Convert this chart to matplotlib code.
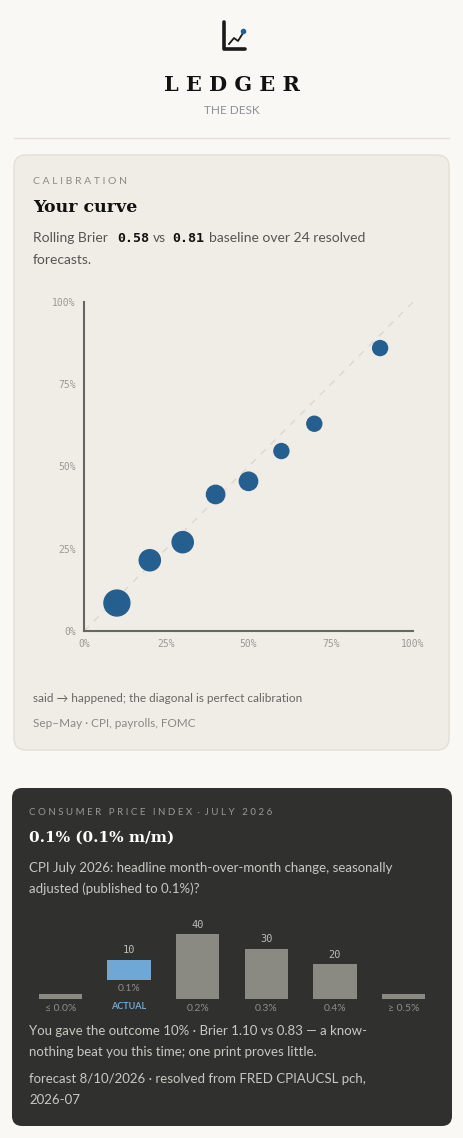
import matplotlib
matplotlib.use('Agg')
import matplotlib.pyplot as plt
from matplotlib.patches import FancyBboxPatch
import numpy as np

W, H = 464, 1138
BG = '#f9f8f5'; CARD = '#f0ede6'; DARK = '#30302e'
BLUE = '#245f8f'; GREY = '#8b8a82'; ACT = '#6fa8d6'
SANS = ['Lato', 'DejaVu Sans']; SERIF = 'DejaVu Serif'; MONO = 'DejaVu Sans Mono'

# calibration data: forecast bucket (said) vs observed frequency (happened), count
said = [10, 20, 30, 40, 50, 60, 70, 90]
happened = [8.5, 21.5, 27, 41.5, 45.5, 54.7, 63, 86]
counts = [6, 4, 4, 3, 3, 2, 2, 2]
ticks = [0, 25, 50, 75, 100]

# CPI forecast distribution
buckets = ['≤ 0.0%', '0.1%', '0.2%', '0.3%', '0.4%', '≥ 0.5%']
probs = [0, 10, 40, 30, 20, 0]
actual_idx = 1

fig = plt.figure(figsize=(W/100, H/100), dpi=100, facecolor=BG)
bg = fig.add_axes([0, 0, 1, 1]); bg.set_xlim(0, W); bg.set_ylim(H, 0); bg.axis('off')

def T(x, y, s, **kw):
    kw.setdefault('va', 'center'); kw.setdefault('family', SANS)
    bg.text(x, y, s, **kw)

# header
bg.plot([224, 224, 245], [22, 49, 49], color='#1a1a1a', lw=2.6, solid_capstyle='round')
bg.plot([229, 234, 238, 243], [44, 38, 41, 33], color='#1a1a1a', lw=1.3)
bg.plot([243], [31], 'o', color=BLUE, ms=3)
T(232, 85, 'L E D G E R', ha='center', family=SERIF, weight='bold', fontsize=15, color='#111')
T(232, 110, 'THE DESK', ha='center', fontsize=8.5, color='#8a8f99')
bg.plot([14, 449], [138, 138], color='#e2dfd8', lw=1)

# card 1
bg.add_patch(FancyBboxPatch((14, 155), 435, 595, boxstyle='round,pad=0,rounding_size=12',
                            fc=CARD, ec='#e3dfd6', lw=1))
T(33, 181, 'C A L I B R A T I O N', fontsize=7.5, color='#8c8a84')
T(33, 207, 'Your curve', family=SERIF, weight='bold', fontsize=12.5, color='#111')
T(33, 238, 'Rolling Brier', fontsize=10, color='#555')
T(117, 238, '0.58', family=MONO, fontsize=9.5, color='#111', weight='bold')
T(153, 238, 'vs', fontsize=10, color='#555')
T(172, 238, '0.81', family=MONO, fontsize=9.5, color='#111', weight='bold')
T(209, 238, 'baseline over 24 resolved', fontsize=10, color='#555')
T(33, 260, 'forecasts.', fontsize=10, color='#555')
T(33, 698, 'said → happened; the diagonal is perfect calibration', fontsize=8.5, color='#666')
T(33, 723, 'Sep–May · CPI, payrolls, FOMC', fontsize=8.5, color='#888')

ax = fig.add_axes([84/W, 1-631/H, 329/W, 329/H])
ax.set_facecolor('none')
ax.plot([0, 100], [0, 100], ls=(0, (5, 5)), color='#dcd8cf', lw=1)
ax.scatter(said, happened, s=[c*58 for c in counts], color=BLUE, zorder=3, clip_on=False)
ax.set_xlim(0, 100); ax.set_ylim(0, 100)
ax.set_xticks(ticks); ax.set_yticks(ticks)
ax.set_xticklabels([f'{t}%' for t in ticks], family=MONO, fontsize=7, color='#999')
ax.set_yticklabels([f'{t}%' for t in ticks], family=MONO, fontsize=7, color='#999')
ax.tick_params(length=0, pad=6)
for s in ['top', 'right']: ax.spines[s].set_visible(False)
for s in ['left', 'bottom']: ax.spines[s].set_color('#666'); ax.spines[s].set_linewidth(1.5)

# card 2
bg.add_patch(FancyBboxPatch((12, 788), 440, 338, boxstyle='round,pad=0,rounding_size=10',
                            fc=DARK, ec='none'))
T(29, 812, 'C O N S U M E R   P R I C E   I N D E X  ·  J U L Y   2 0 2 6', fontsize=7, color='#9a9a94')
T(29, 838, '0.1% (0.1% m/m)', family=SERIF, weight='bold', fontsize=11, color='white')
T(29, 868, 'CPI July 2026: headline month-over-month change, seasonally', fontsize=9.5, color='#c8c8c2')
T(29, 889, 'adjusted (published to 0.1%)?', fontsize=9.5, color='#c8c8c2')
T(29, 1031, 'You gave the outcome 10% · Brier 1.10 vs 0.83 — a know-', fontsize=9.5, color='#c8c8c2')
T(29, 1052, 'nothing beat you this time; one print proves little.', fontsize=9.5, color='#c8c8c2')
T(29, 1079, 'forecast 8/10/2026 · resolved from FRED CPIAUCSL pch,', fontsize=9.5, color='#c8c8c2')
T(29, 1100, '2026-07', fontsize=9.5, color='#c8c8c2')

bx = fig.add_axes([26/W, 1-999/H, 412/W, 90/H])
bx.set_facecolor('none'); bx.axis('off')
bx.set_xlim(-0.5, 5.5); bx.set_ylim(0, 60)
x = np.arange(len(buckets))
heights = [p + 10/3 for p in probs]
bottoms = [12.7 if i == actual_idx else 0 for i in x]
cols = [ACT if i == actual_idx else GREY for i in x]
bx.bar(x, heights, bottom=bottoms, width=0.63, color=cols)
for i, p in enumerate(probs):
    if p:
        bx.text(i, heights[i] + bottoms[i] + 3, f'{p}', ha='center', va='bottom',
                family=MONO, fontsize=7.5, color='#bbb')
    if i == actual_idx:
        bx.text(i, 7, buckets[i], ha='center', va='center', fontsize=7.5, family=SANS, color='#8f8f89')
        bx.text(i, -5, 'ACTUAL', ha='center', va='center', fontsize=6.5, weight='bold',
                family=SANS, color=ACT)
    else:
        bx.text(i, -6.5, buckets[i], ha='center', va='center', fontsize=7.5, family=SANS, color='#8f8f89')

fig.savefig('out.png', dpi=100, facecolor=BG)
